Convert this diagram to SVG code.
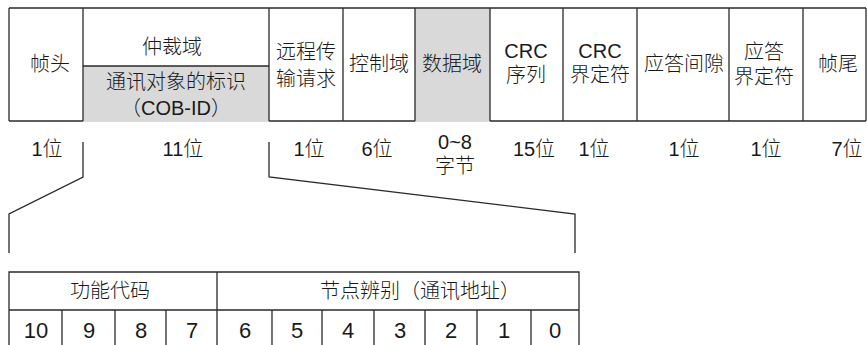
<svg xmlns="http://www.w3.org/2000/svg" width="867" height="345" viewBox="0 0 867 345">
<style>
.ln{stroke:#2a2a2a;stroke-width:1.3;fill:none}
.gr{fill:#d9d9d9;stroke:none}
.t{font-family:"Liberation Sans","Noto Sans CJK SC",sans-serif;font-size:20px;font-weight:300;fill:#1a1a1a;text-anchor:middle}
.n{font-size:22px}
</style>
<rect width="867" height="345" fill="#fff"/>
<g id="frame-fields">
<rect class="gr" x="83" y="66" width="186" height="56"/>
<rect class="gr" x="415" y="8.6" width="75" height="113.4"/>
<path class="ln" d="M9,8H866M9,121H83M269,121H415M490,121H866M83,66H269M9,8V121M83,8V121M269,8V121M343,8V121M415,8V121M490,8V121M563,8V121M637,8V121M729,8V121M803,8V121M866,8V121"/>
</g>
<g id="n-zhentou"><text class="t" x="50" y="71">帧头</text><text class="t" x="47" y="156">1位</text></g>
<g id="n-zhongcai"><text class="t" x="172" y="54">仲裁域</text><text class="t" x="176" y="89">通讯对象的标识</text><text class="t" x="176" y="115">（COB-ID）</text><text class="t" x="183" y="156">11位</text></g>
<g id="n-rtr"><text class="t" x="306" y="59">远程传</text><text class="t" x="306" y="86">输请求</text><text class="t" x="309" y="156">1位</text></g>
<g id="n-ctrl"><text class="t" x="379" y="71">控制域</text><text class="t" x="377" y="156">6位</text></g>
<g id="n-data"><text class="t" x="452" y="71">数据域</text><text class="t" x="455" y="149">0~8</text><text class="t" x="455" y="173">字节</text></g>
<g id="n-crc"><text class="t" x="526" y="58">CRC</text><text class="t" x="526" y="82">序列</text><text class="t" x="534" y="156">15位</text></g>
<g id="n-crcdel"><text class="t" x="600" y="58">CRC</text><text class="t" x="600" y="82">界定符</text><text class="t" x="594" y="156">1位</text></g>
<g id="n-ackslot"><text class="t" x="684" y="71">应答间隙</text><text class="t" x="684" y="156">1位</text></g>
<g id="n-ackdel"><text class="t" x="764" y="59">应答</text><text class="t" x="764" y="84">界定符</text><text class="t" x="766" y="156">1位</text></g>
<g id="n-zhenwei"><text class="t" x="838" y="71">帧尾</text><text class="t" x="847" y="156">7位</text></g>
<g id="connectors">
<path class="ln" d="M83,142V177L9,214V253"/>
<path class="ln" d="M269,142V177L575,214V253"/>
</g>
<g id="cob-id-bits">
<path class="ln" d="M9,345V272H579V345M9,310H579M217,272V345M62,310V345M115,310V345M166,310V345M272,310V345M322,310V345M374,310V345M425,310V345M477,310V345M531,310V345"/>
<text class="t" x="110" y="298">功能代码</text>
<text class="t" x="420" y="298">节点辨别（通讯地址）</text>
<text class="t n" x="36" y="338">10</text><text class="t n" x="89" y="338">9</text><text class="t n" x="141" y="338">8</text><text class="t n" x="192" y="338">7</text>
<text class="t n" x="245" y="338">6</text><text class="t n" x="297" y="338">5</text><text class="t n" x="348" y="338">4</text><text class="t n" x="400" y="338">3</text>
<text class="t n" x="451" y="338">2</text><text class="t n" x="504" y="338">1</text><text class="t n" x="555" y="338">0</text>
</g>
</svg>
